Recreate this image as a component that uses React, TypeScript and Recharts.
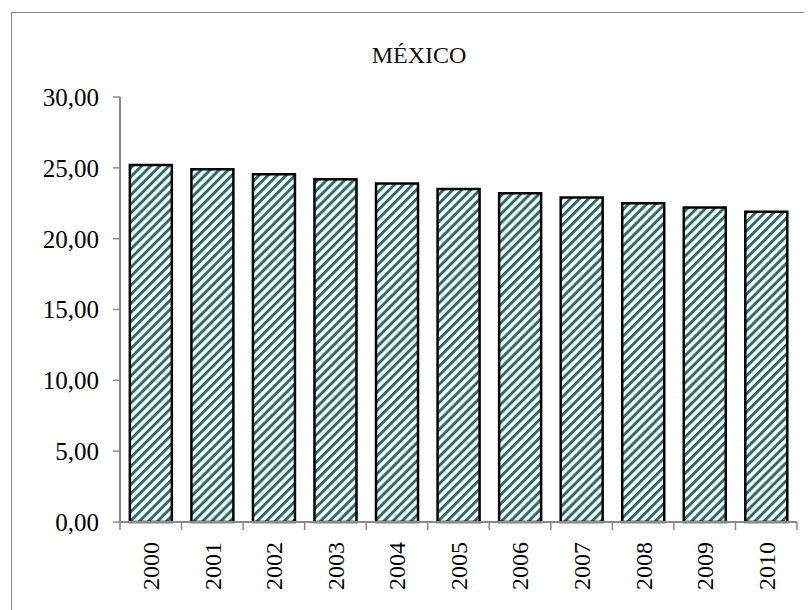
import { BarChart, Bar, XAxis, YAxis } from 'recharts';

const YEARS = ['2000', '2001', '2002', '2003', '2004', '2005', '2006', '2007', '2008', '2009', '2010'];
const VALUES = [25.2, 24.9, 24.55, 24.2, 23.9, 23.5, 23.2, 22.9, 22.5, 22.2, 21.9];
const Y_TICKS = [0, 5, 10, 15, 20, 25, 30];

const TITLE = 'MÉXICO';
const FONT = '"Liberation Serif", "Times New Roman", serif';
const TEAL = '#2d6b64';
const GRAY = '#8a8a8a';

const data = YEARS.map((year, i) => ({ year, value: VALUES[i] }));

// 0,00 estilo: coma decimal
const fmt = (v: number) => v.toFixed(2).replace('.', ',');

function YearTick(props: any) {
  const { x, y, payload, index, width, visibleTicksCount } = props;
  const count = visibleTicksCount || YEARS.length;
  const half = width / count / 2;
  return (
    <g>
      <line x1={x - half} y1={y} x2={x - half} y2={y + 8} stroke={GRAY} strokeWidth={1.5} />
      {index === count - 1 && (
        <line x1={x + half} y1={y} x2={x + half} y2={y + 8} stroke={GRAY} strokeWidth={1.5} />
      )}
      <text
        x={x}
        y={y + 20}
        transform={`rotate(-90, ${x}, ${y + 20})`}
        textAnchor="end"
        dy="0.35em"
        fontFamily={FONT}
        fontSize={24}
        fill="#000"
      >
        {payload.value}
      </text>
    </g>
  );
}

export default function App() {
  return (
    <div style={{ position: 'relative', width: 804, height: 602, overflow: 'hidden', background: '#fff' }}>
      {/* marco exterior */}
      <div
        style={{
          position: 'absolute',
          left: 3,
          top: 4,
          width: 840,
          height: 640,
          border: `1px solid ${GRAY}`,
        }}
      />
      <div
        style={{
          position: 'absolute',
          left: 311,
          top: 35,
          width: 200,
          textAlign: 'center',
          fontFamily: FONT,
          fontSize: 24,
          lineHeight: 1,
          color: '#111',
        }}
      >
        {TITLE}
      </div>
      <div style={{ position: 'absolute', left: 0, top: 0 }}>
        <BarChart
          width={804}
          height={602}
          data={data}
          margin={{ top: 89, right: 15, left: 0, bottom: 0 }}
          barCategoryGap="16%"
        >
          <defs>
            <pattern
              id="hatch"
              patternUnits="userSpaceOnUse"
              width={6.4}
              height={6.4}
              patternTransform="rotate(45)"
            >
              <rect width={6.4} height={6.4} fill="#fbfdfc" />
              <rect width={2.9} height={6.4} fill={TEAL} />
            </pattern>
          </defs>
          <XAxis
            dataKey="year"
            xAxisId="main"
            height={88}
            interval={0}
            tickSize={0}
            tickMargin={0}
            axisLine={{ stroke: GRAY, strokeWidth: 2 }}
            tickLine={false}
            tick={<YearTick />}
          />
          <XAxis
            dataKey="year"
            xAxisId="top"
            orientation="top"
            height={0}
            tick={false}
            tickLine={false}
            axisLine={{ stroke: GRAY, strokeWidth: 3 }}
          />
          <YAxis
            yAxisId="main"
            width={112}
            domain={[0, 30]}
            ticks={Y_TICKS}
            interval={0}
            tickSize={7}
            tickMargin={14}
            tickFormatter={fmt}
            axisLine={{ stroke: GRAY, strokeWidth: 2 }}
            tickLine={{ stroke: GRAY, strokeWidth: 1.5 }}
            tick={{ fontFamily: FONT, fontSize: 25, fill: '#000' }}
          />
          <YAxis
            yAxisId="right"
            orientation="right"
            width={0}
            domain={[0, 30]}
            tick={false}
            tickLine={false}
            axisLine={{ stroke: GRAY, strokeWidth: 3 }}
          />
          <Bar
            dataKey="value"
            xAxisId="main"
            yAxisId="main"
            fill="url(#hatch)"
            stroke="#000"
            strokeWidth={2.5}
            isAnimationActive={false}
          />
        </BarChart>
      </div>
    </div>
  );
}
